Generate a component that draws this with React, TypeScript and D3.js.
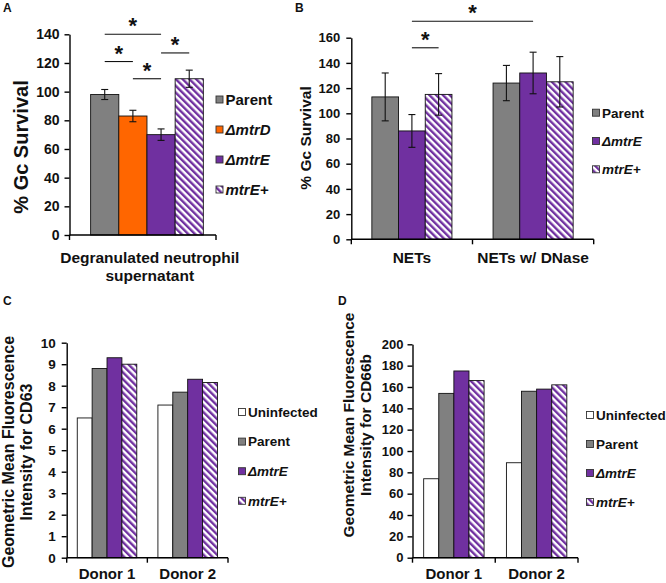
import React, { useEffect, useRef } from "react";
import * as d3 from "d3";

const FONT = "'Liberation Sans', Arial, Helvetica, sans-serif";

// ---- Panel A: degranulated neutrophil supernatant ----
const aCategories = ["Degranulated neutrophil supernatant"];
const aSeries = ["Parent", "ΔmtrD", "ΔmtrE", "mtrE+"];
const aValues = [[98], [83], [70], [109]];
const aErrors = [[3.5], [4], [4], [6]];
const aTicks = [0, 20, 40, 60, 80, 100, 120, 140];
// significance bars: categories, series from/to, level in data units
const aSig = [
  { cat: [0, 0], from: 0, to: 2, level: 140 },
  { cat: [0, 0], from: 0, to: 1, level: 121 },
  { cat: [0, 0], from: 1, to: 2, level: 109 },
  { cat: [0, 0], from: 2, to: 3, level: 127 },
];

// ---- Panel B: NETs ----
const bCategories = ["NETs", "NETs w/ DNase"];
const bSeries = ["Parent", "ΔmtrE", "mtrE+"];
const bValues = [
  [113, 124],
  [86, 132],
  [115, 125],
];
const bErrors = [
  [19, 14],
  [13, 16.5],
  [16.5, 20],
];
const bTicks = [0, 20, 40, 60, 80, 100, 120, 140, 160];
const bSig = [
  { cat: [0, 1], from: 1, to: 1, level: 173 },
  { cat: [0, 0], from: 1, to: 2, level: 152 },
];

// ---- Panel C: CD63 ----
const cdCategories = ["Donor 1", "Donor 2"];
const cdSeries = ["Uninfected", "Parent", "ΔmtrE", "mtrE+"];
const cValues = [
  [6.5, 7.1],
  [8.8, 7.7],
  [9.3, 8.3],
  [9.0, 8.15],
];
const cTicks = [0, 1, 2, 3, 4, 5, 6, 7, 8, 9, 10];

// ---- Panel D: CD66b ----
const dValues = [
  [74, 89],
  [154, 156],
  [175, 158],
  [166, 162],
];
const dTicks = [0, 20, 40, 60, 80, 100, 120, 140, 160, 180, 200];

const fills: Record<string, string> = {
  Uninfected: "#ffffff",
  Parent: "#808080",
  ΔmtrD: "#ff6600",
  ΔmtrE: "#7030a0",
  "mtrE+": "url(#hatch)",
};

interface Sig {
  cat: number[];
  from: number;
  to: number;
  level: number;
}

interface PanelProps {
  label: string;
  labelPos: [number, number];
  categories: string[];
  catLines: string[][];
  catLabelDx?: number;
  catBaselines: number[];
  catFont: number;
  series: string[];
  values: number[][];
  errors?: number[][];
  sig?: Sig[];
  yMax: number;
  yTicks: number[];
  xRange: [number, number];
  yRange: [number, number];
  outerPad: number;
  align?: number;
  tickFont: number;
  tickPadding: number;
  title: string[];
  titleX: number[];
  titleCy: number;
  titleFont: number;
  legendX: number;
  legendY: number;
  legendStep: number;
  legendFont: number;
}

const Panel: React.FC<PanelProps> = (p) => {
  const axisRef = useRef<SVGGElement>(null);

  const y = d3.scaleLinear().domain([0, p.yMax]).range(p.yRange);
  const x0 = d3.scaleBand<string>().domain(p.categories).range(p.xRange);
  const x1 = d3
    .scaleBand<string>()
    .domain(p.series)
    .range([0, x0.bandwidth()])
    .paddingOuter(p.outerPad)
    .align(p.align ?? 0.5);

  const barCenter = (ci: number, si: number) =>
    (x0(p.categories[ci]) ?? 0) + (x1(p.series[si]) ?? 0) + x1.bandwidth() / 2;

  useEffect(() => {
    const g = d3.select(axisRef.current);
    g.call(
      d3
        .axisLeft(y)
        .tickValues(p.yTicks)
        .tickSize(5)
        .tickSizeOuter(0)
        .tickPadding(p.tickPadding)
    );
    g.select(".domain").attr("stroke", "#000").attr("stroke-width", 1.4);
    g.selectAll(".tick line").attr("stroke", "#000").attr("stroke-width", 1.4);
    g.selectAll(".tick text")
      .attr("font-family", FONT)
      .attr("font-weight", "bold")
      .attr("font-size", p.tickFont)
      .attr("fill", "#111");
  });

  const base = p.yRange[0];
  const step = x0.step();
  const boundaries = d3.range(p.categories.length + 1).map((i) => p.xRange[0] + i * step);

  return (
    <g fontFamily={FONT} fontWeight="bold" fill="#111">
      <text x={p.labelPos[0]} y={p.labelPos[1]} fontSize={12}>
        {p.label}
      </text>

      {/* bars */}
      {p.series.map((s, si) =>
        p.categories.map((c, ci) => {
          const v = p.values[si][ci];
          return (
            <rect
              key={s + c}
              x={(x0(c) ?? 0) + (x1(s) ?? 0)}
              y={y(v)}
              width={x1.bandwidth()}
              height={base - y(v)}
              fill={fills[s]}
              stroke="#111"
              strokeWidth={0.9}
            />
          );
        })
      )}

      {/* error bars */}
      {p.errors &&
        p.series.map((s, si) =>
          p.categories.map((c, ci) => {
            const v = p.values[si][ci];
            const e = p.errors![si][ci];
            const cx = barCenter(ci, si);
            return (
              <g key={"e" + s + c} stroke="#111" strokeWidth={1.1}>
                <line x1={cx} x2={cx} y1={y(v - e)} y2={y(v + e)} />
                <line x1={cx - 3.5} x2={cx + 3.5} y1={y(v - e)} y2={y(v - e)} />
                <line x1={cx - 3.5} x2={cx + 3.5} y1={y(v + e)} y2={y(v + e)} />
              </g>
            );
          })
        )}

      {/* significance */}
      {p.sig &&
        p.sig.map((s, i) => {
          const xa = barCenter(s.cat[0], s.from);
          const xb = barCenter(s.cat[1], s.to);
          const ly = y(s.level);
          return (
            <g key={"s" + i}>
              <line x1={xa} x2={xb} y1={ly} y2={ly} stroke="#111" strokeWidth={1.1} />
              <text x={(xa + xb) / 2} y={ly - 1} fontSize={22} textAnchor="middle">
                *
              </text>
            </g>
          );
        })}

      {/* x axis */}
      <line
        x1={p.xRange[0]}
        x2={p.xRange[1]}
        y1={base}
        y2={base}
        stroke="#000"
        strokeWidth={1.4}
      />
      {boundaries.map((bx, i) => (
        <line key={"b" + i} x1={bx} x2={bx} y1={base} y2={base + 5} stroke="#000" strokeWidth={1.4} />
      ))}
      {p.categories.map((c, ci) =>
        p.catLines[ci].map((ln, li) => (
          <text
            key={c + li}
            x={(x0(c) ?? 0) + x0.bandwidth() / 2 + (p.catLabelDx ?? 0)}
            y={p.catBaselines[li]}
            fontSize={p.catFont}
            textAnchor="middle"
          >
            {ln}
          </text>
        ))
      )}

      {/* y axis */}
      <g ref={axisRef} transform={`translate(${p.xRange[0]},0)`} />
      {p.title.map((t, i) => (
        <text
          key={t}
          transform={`translate(${p.titleX[i]},${p.titleCy}) rotate(-90)`}
          fontSize={p.titleFont}
          textAnchor="middle"
        >
          {t}
        </text>
      ))}

      {/* legend */}
      {p.series.map((s, si) => {
        const ly = p.legendY + si * p.legendStep;
        return (
          <g key={"l" + s}>
            <rect
              x={p.legendX}
              y={ly - 3.5}
              width={7}
              height={7}
              fill={fills[s]}
              stroke="#333"
              strokeWidth={0.9}
            />
            <text
              x={p.legendX + 9.5}
              y={ly + p.legendFont * 0.36}
              fontSize={p.legendFont}
              fontStyle={s.includes("mtr") ? "italic" : "normal"}
            >
              {s}
            </text>
          </g>
        );
      })}
    </g>
  );
};

export default function App() {
  return (
    <svg
      width={666}
      height={583}
      style={{ position: "absolute", left: 0, top: 0, background: "#fff" }}
    >
      <defs>
        <pattern
          id="hatch"
          patternUnits="userSpaceOnUse"
          width={4.8}
          height={4.8}
          patternTransform="rotate(-45)"
        >
          <rect width={4.8} height={4.8} fill="#fff" />
          <rect width={2.4} height={4.8} fill="#7030a0" />
        </pattern>
      </defs>
      <rect width={666} height={583} fill="#fff" />

      <Panel
        label="A"
        labelPos={[3, 12]}
        categories={aCategories}
        catLines={[["Degranulated neutrophil", "supernatant"]]}
        catLabelDx={7}
        catBaselines={[263, 281]}
        catFont={15.5}
        series={aSeries}
        values={aValues}
        errors={aErrors}
        sig={aSig}
        yMax={140}
        yTicks={aTicks}
        xRange={[69.5, 216]}
        yRange={[235, 34.3]}
        outerPad={0.6}
        align={0.625}
        tickFont={14}
        tickPadding={5}
        title={["% Gc Survival"]}
        titleX={[28]}
        titleCy={147}
        titleFont={20}
        legendX={216}
        legendY={99.5}
        legendStep={30}
        legendFont={15}
      />

      <Panel
        label="B"
        labelPos={[295, 12]}
        categories={bCategories}
        catLines={[["NETs"], ["NETs w/ DNase"]]}
        catBaselines={[263]}
        catFont={15.5}
        series={bSeries}
        values={bValues}
        errors={bErrors}
        sig={bSig}
        yMax={160}
        yTicks={bTicks}
        xRange={[351.3, 593.7]}
        yRange={[239.3, 37.7]}
        outerPad={0.77}
        tickFont={13}
        tickPadding={6}
        title={["% Gc Survival"]}
        titleX={[311]}
        titleCy={138}
        titleFont={15.5}
        legendX={592.5}
        legendY={112.7}
        legendStep={28.3}
        legendFont={13.5}
      />

      <Panel
        label="C"
        labelPos={[3, 305]}
        categories={cdCategories}
        catLines={[["Donor 1"], ["Donor 2"]]}
        catBaselines={[579]}
        catFont={15}
        series={cdSeries}
        values={cValues}
        yMax={10}
        yTicks={cTicks}
        xRange={[66.7, 228]}
        yRange={[557.7, 342.7]}
        outerPad={0.71}
        tickFont={13.5}
        tickPadding={6}
        title={["Geometric Mean Fluorescence", "Intensity for CD63"]}
        titleX={[14, 32]}
        titleCy={452}
        titleFont={16}
        legendX={238.5}
        legendY={412}
        legendStep={29.6}
        legendFont={13.5}
      />

      <Panel
        label="D"
        labelPos={[338, 305]}
        categories={cdCategories}
        catLines={[["Donor 1"], ["Donor 2"]]}
        catBaselines={[579]}
        catFont={15}
        series={cdSeries}
        values={dValues}
        yMax={200}
        yTicks={dTicks}
        xRange={[412.5, 578]}
        yRange={[557.7, 344.3]}
        outerPad={0.74}
        tickFont={13}
        tickPadding={4}
        title={["Geometric Mean Fluorescence", "Intensity for CD66b"]}
        titleX={[354, 371]}
        titleCy={425}
        titleFont={15.5}
        legendX={586.5}
        legendY={415}
        legendStep={29}
        legendFont={13.5}
      />
    </svg>
  );
}
